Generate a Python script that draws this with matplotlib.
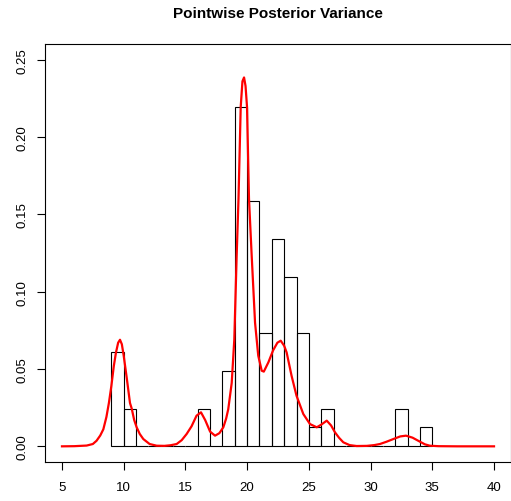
import numpy as np
import matplotlib
matplotlib.use("Agg")
import matplotlib.pyplot as plt

plt.rcParams['font.family'] = ['Liberation Sans', 'DejaVu Sans']

# Histogram: unit-width bins from 9 to 35, counts per bin (82 observations)
bin_edges = list(range(9, 36))
counts = [5, 2, 0, 0, 0, 0, 0, 2, 0, 4, 18, 13, 6, 11, 9, 6, 1, 2,
          0, 0, 0, 0, 0, 2, 0, 1]

# Smoothed density estimate (x, density)
dens_x = [5.0, 6.0, 7.0, 7.5, 7.8, 8.1, 8.35, 8.6, 8.8, 9.0, 9.2, 9.37, 9.55,
          9.7, 9.85, 10.0, 10.24, 10.51, 10.65, 10.85, 11.05, 11.3, 11.59,
          12.1, 12.67, 13.3, 13.8, 14.29, 14.7, 15.1, 15.5, 15.9, 16.26, 16.6,
          17.0, 17.4, 17.75, 18.07, 18.3, 18.47, 18.75, 18.96, 19.15, 19.3,
          19.48, 19.62, 19.75, 19.87, 19.99, 20.15, 20.37, 20.64, 20.9, 21.18,
          21.35, 21.72, 22.1, 22.45, 22.72, 23.0, 23.2, 23.6, 24.0, 24.55,
          25.09, 25.64, 26.0, 26.45, 26.8, 27.12, 27.45, 27.79, 28.3, 28.87,
          29.7, 30.3, 30.76, 31.3, 31.84, 32.4, 32.87, 33.4, 34.0, 34.4, 34.8,
          35.5, 37.0, 40.0]
dens_y = [0.0, 0.0001, 0.0005, 0.0015, 0.0036, 0.007, 0.011, 0.019, 0.028,
          0.039, 0.052, 0.0605, 0.067, 0.0689, 0.066, 0.0586, 0.0446, 0.028,
          0.0244, 0.017, 0.0123, 0.008, 0.0047, 0.0015, 0.0004, 0.0003,
          0.0007, 0.0015, 0.004, 0.008, 0.013, 0.0198, 0.022, 0.017, 0.0095,
          0.0069, 0.0085, 0.0123, 0.018, 0.024, 0.041, 0.069, 0.123, 0.16,
          0.2195, 0.236, 0.2385, 0.233, 0.2195, 0.16, 0.123, 0.080, 0.0586,
          0.0489, 0.0483, 0.0543, 0.062, 0.067, 0.0683, 0.065, 0.0607, 0.0456,
          0.0327, 0.0209, 0.0144, 0.0123, 0.014, 0.0166, 0.0135, 0.009,
          0.0055, 0.0026, 0.0008, 0.0002, 0.0003, 0.0008, 0.0015, 0.003,
          0.0047, 0.0064, 0.0069, 0.0056, 0.003, 0.0013, 0.0004, 0.0001, 0.0,
          0.0]

x_ticks = [5, 10, 15, 20, 25, 30, 35, 40]
y_ticks = [0.00, 0.05, 0.10, 0.15, 0.20, 0.25]

W, H = 511, 502
fig = plt.figure(figsize=(W / 100, H / 100), dpi=100)
ax = fig.add_axes([44.7 / W, 1 - 462.8 / H, (511.3 - 44.7) / W, (462.8 - 45.2) / H])

n = sum(counts)
edges = np.array(bin_edges, dtype=float)
widths = np.diff(edges)
heights = np.array(counts) / (n * widths)
ax.bar(edges[:-1], heights, width=widths, align='edge', facecolor='none',
       edgecolor='black', linewidth=0.8)

ax.plot(dens_x, dens_y, color='#ff0000', linewidth=1.6)

ax.set_xlim(3.6, 41.4)
ax.set_ylim(-0.01, 0.26)
ax.set_xticks(x_ticks)
ax.set_xticklabels([str(t) for t in x_ticks])
ax.set_yticks(y_ticks)
ax.set_yticklabels([f"{t:.2f}" for t in y_ticks], rotation=90, va='center')
ax.tick_params(axis='both', length=5.5, width=0.8, labelsize=9.5, color='black')
ax.tick_params(axis='x', pad=8.5)
ax.tick_params(axis='y', pad=6.5)
for s in ax.spines.values():
    s.set_linewidth(0.8)

fig.text((44.7 + 511.3) / 2 / W, 1 - 14 / H, "Pointwise Posterior Variance",
         ha='center', va='center', fontsize=11, fontweight='bold')

fig.savefig("out.png", dpi=100)
